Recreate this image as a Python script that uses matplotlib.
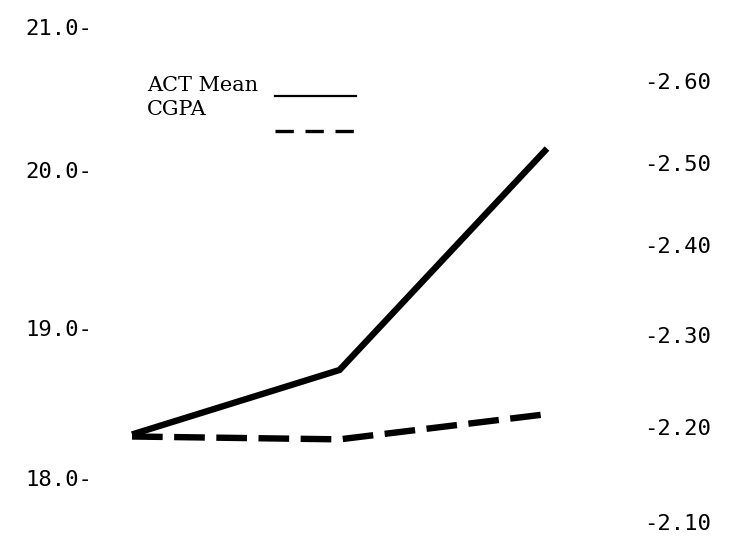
import matplotlib
matplotlib.use("Agg")
import matplotlib.pyplot as plt
from matplotlib.lines import Line2D
import numpy as np

# data
groups = [1, 2, 3]
act_mean = [18.29, 18.72, 20.15]
cgpa = [2.19, 2.187, 2.214]

act_ticks = [18.0, 19.0, 20.0, 21.0]
act_labels = ['18.0-', '19.0-', '20.0-', '21.0-']
cgpa_ticks = [2.10, 2.20, 2.30, 2.40, 2.50, 2.60]
cgpa_labels = ['-2.10', '-2.20', '-2.30', '-2.40', '-2.50', '-2.60']
series_names = ['ACT Mean', 'CGPA']

# the hand-typed scales are uneven; map values to pixel rows (piecewise)
W, H = 735, 539
act_knots = np.array([17.0, 18.0, 19.0, 20.0, 21.0, 22.0])
act_rows = np.array([626, 478, 328, 170, 27, -116])
cgpa_knots = np.array([2.0, 2.1, 2.2, 2.3, 2.4, 2.5, 2.6, 2.7])
cgpa_rows = np.array([617, 522, 427, 335, 245, 163, 81, -1])


def make_scale(knots, rows):
    fwd = lambda v: np.interp(v, knots, -rows)
    inv = lambda u: np.interp(u, -rows, knots)
    return fwd, inv


fig = plt.figure(figsize=(W / 100, H / 100), dpi=100)
x0, x1 = 95, 640
ax = fig.add_axes([x0 / W, 0, (x1 - x0) / W, 1])
ax2 = ax.twinx()

f1, i1 = make_scale(act_knots, act_rows)
ax.set_yscale('function', functions=(f1, i1))
ax.set_ylim(i1(-H), i1(0))
f2, i2 = make_scale(cgpa_knots, cgpa_rows)
ax2.set_yscale('function', functions=(f2, i2))
ax2.set_ylim(i2(-H), i2(0))

# x: group 1 at px 132, group 3 at px 547
b = (547 - 132) / 2
a = 132 - b
ax.set_xlim((x0 - a) / b, (x1 - a) / b)

ax.plot(groups, act_mean, color='black', lw=4.6, solid_joinstyle='miter',
        solid_capstyle='butt')
ax2.plot(groups, cgpa, color='black', lw=4.6, dashes=(4.8, 1.8),
         dash_capstyle='butt')

ax.set_yticks(act_ticks)
ax.set_yticklabels(act_labels, family='DejaVu Sans Mono', fontsize=16)
ax2.set_yticks(cgpa_ticks)
ax2.set_yticklabels(cgpa_labels, family='DejaVu Sans Mono', fontsize=16)
ax.tick_params(axis='y', length=0, pad=2)
ax2.tick_params(axis='y', length=0, pad=3)
ax.set_xticks([])

for a_ in (ax, ax2):
    for s in a_.spines.values():
        s.set_visible(False)
    a_.patch.set_visible(False)

# typed key: names on the left, line samples to the right
ax2.text((147 - x0) / (x1 - x0), 1 - 91 / H, series_names[0],
         transform=ax2.transAxes, va='baseline', ha='left',
         family='DejaVu Serif', fontsize=15)
ax2.text((147 - x0) / (x1 - x0), 1 - 115 / H, series_names[1],
         transform=ax2.transAxes, va='baseline', ha='left',
         family='DejaVu Serif', fontsize=15)
handles = [Line2D([], [], color='black', lw=1.6),
           Line2D([], [], color='black', lw=2.4, dashes=(5.5, 3.5))]
ax2.legend(handles, ['', ''], loc='upper left',
           bbox_to_anchor=((275 - x0) / (x1 - x0), 1 - 88 / H),
           frameon=False, handlelength=4.0, handletextpad=0.0,
           labelspacing=0.82, borderpad=0, borderaxespad=0,
           prop={'family': 'DejaVu Serif', 'size': 14.5})

fig.savefig('out.png', dpi=100)
